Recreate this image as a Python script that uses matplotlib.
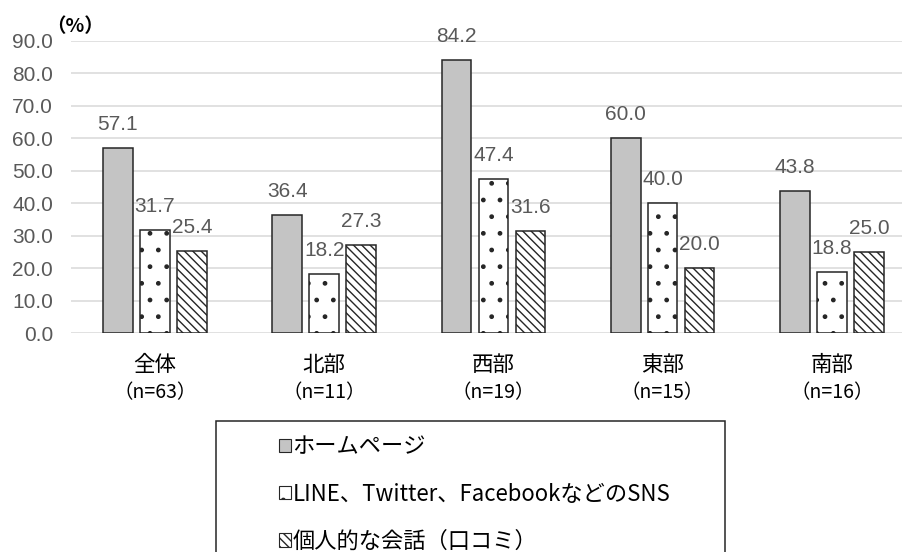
import matplotlib
matplotlib.use("Agg")
import matplotlib.pyplot as plt
from matplotlib.patches import Patch, Rectangle

plt.rcParams["font.family"] = ["Noto Sans CJK JP", "DejaVu Sans"]
plt.rcParams["hatch.linewidth"] = 1.0

regions = ["全体", "北部", "西部", "東部", "南部"]
counts = ["（n=63）", "（n=11）", "（n=19）", "（n=15）", "（n=16）"]
series_names = ["ホームページ", "LINE、Twitter、FacebookなどのSNS", "個人的な会話（口コミ）"]
homepage = [57.1, 36.4, 84.2, 60.0, 43.8]
sns_vals = [31.7, 18.2, 47.4, 40.0, 18.8]
word_of_mouth = [25.4, 27.3, 31.6, 20.0, 25.0]
yticks = [0, 10, 20, 30, 40, 50, 60, 70, 80, 90]

STYLES = [
    dict(facecolor="#C4C4C4", hatch=None),
    dict(facecolor="white", hatch="."),
    dict(facecolor="white", hatch="\\\\\\\\"),
]
EDGE = "#262626"
TXT = "#595959"
NUM_FONT = ["Liberation Sans", "DejaVu Sans"]

W, H = 903, 552
fig = plt.figure(figsize=(W / 100, H / 100), dpi=100)
ax = fig.add_axes([71 / W, (H - 333.3) / H, 1 - 71 / W, (333.3 - 41) / H])

width, step = 0.175, 0.2185
for k, vals in enumerate([homepage, sns_vals, word_of_mouth]):
    xs = [i + (k - 1) * step for i in range(len(regions))]
    ax.bar(xs, vals, width, edgecolor=EDGE, linewidth=1.1, zorder=3, **STYLES[k])
    for x, v in zip(xs, vals):
        ax.annotate(f"{v:.1f}", (x, v), xytext=(0, 13), textcoords="offset points",
                    ha="center", va="baseline", fontsize=15, color=TXT, family=NUM_FONT)

ax.set_xlim(-0.496, 4.42)
ax.set_ylim(0, 90)
ax.set_yticks(yticks)
ax.set_yticklabels([f"{t:.1f}" for t in yticks], fontsize=15, color=TXT, family=NUM_FONT)
ax.tick_params(axis="y", length=0, pad=13)
ax.set_xticks([])
ax.grid(axis="y", color="#D9D9D9", linewidth=1.1, zorder=0)
for s in ax.spines.values():
    s.set_visible(False)

tr = ax.get_xaxis_transform()
for i, (r, n) in enumerate(zip(regions, counts)):
    ax.text(i, -0.107, r, transform=tr, ha="center", va="center", fontsize=15.5)
    ax.text(i, -0.203, n, transform=tr, ha="center", va="center", fontsize=14)

fig.text(46 / W, 1 - 27 / H, "（%）", fontsize=14, fontweight="bold", ha="left", va="center")

# legend box runs off the bottom of the picture
fig.patches.append(Rectangle((216 / W, -0.1), (725 - 216) / W, 0.1 + (H - 421) / H,
                             transform=fig.transFigure, facecolor="white",
                             edgecolor=EDGE, linewidth=1.1, zorder=0))
handles = [Patch(edgecolor=EDGE, linewidth=0.8, **st) for st in STYLES]
fig.legend(handles, series_names, loc="upper left", bbox_to_anchor=(268 / W, 1 - 424 / H),
           frameon=False, fontsize=16, handlelength=0.55, handleheight=0.55,
           handletextpad=0.05, labelspacing=1.1, borderpad=0)

fig.savefig("out.png", dpi=100)
